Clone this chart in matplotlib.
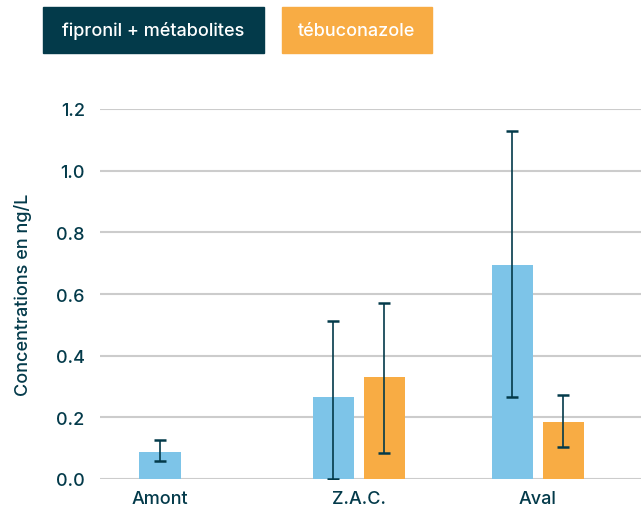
import numpy as np
import matplotlib.pyplot as plt
from matplotlib.patches import Rectangle

# data
sites = ["Amont", "Z.A.C.", "Aval"]
fipronil = [0.087, 0.266, 0.694]
fipronil_low = [0.059, 0.0, 0.267]
fipronil_high = [0.127, 0.513, 1.129]
tebu = [np.nan, 0.331, 0.185]
tebu_low = [np.nan, 0.085, 0.104]
tebu_high = [np.nan, 0.572, 0.273]
yticks = [0.0, 0.2, 0.4, 0.6, 0.8, 1.0, 1.2]

dark = "#033a4a"
blue = "#7dc4e8"
orange = "#f8ac44"
plt.rcParams['font.family'] = ['Inter', 'DejaVu Sans']

fig = plt.figure(figsize=(6.41, 5.10), dpi=100)
ax = fig.add_axes([100 / 641, 30 / 510, 541 / 641, 370 / 510])

centers = np.array([0.0, 1.053, 2.0])
width = 0.22
off = 0.135

# Amont has only one series -> bar centered on the group
blue_x = centers - off
blue_x[0] = centers[0]
orange_x = centers + off

ax.bar(blue_x, fipronil, width, color=blue, zorder=2)
ax.bar(orange_x, tebu, width, color=orange, zorder=2)

f = np.array(fipronil)
t = np.array(tebu)
ax.errorbar(blue_x, f, yerr=[f - np.array(fipronil_low), np.array(fipronil_high) - f],
            fmt="none", ecolor=dark, elinewidth=1.2, capsize=4.5, capthick=1.8, zorder=3)
ax.errorbar(orange_x, t, yerr=[t - np.array(tebu_low), np.array(tebu_high) - t],
            fmt="none", ecolor=dark, elinewidth=1.2, capsize=4.5, capthick=1.8, zorder=3)

ax.set_xlim(-0.317, 2.545)
ax.set_ylim(0, 1.2)
ax.set_yticks(yticks)
ax.set_yticklabels([f"{v:.1f}" for v in yticks])
ax.set_xticks(centers)
ax.set_xticklabels(sites)
ax.yaxis.grid(True, color="#cccccc", linewidth=1.5, zorder=0)
ax.set_axisbelow(True)
for s in ax.spines.values():
    s.set_visible(False)
ax.tick_params(axis="y", length=0, pad=11, labelsize=13, labelcolor=dark)
ax.tick_params(axis="x", length=0, pad=8, labelsize=13, labelcolor=dark)
for lab in ax.get_xticklabels() + ax.get_yticklabels():
    lab.set_fontweight("medium")
ax.set_ylabel("Concentrations en ng/L", fontsize=13, color=dark, labelpad=17,
              fontweight="medium")

# legend boxes at top
fig.patches.append(Rectangle((43 / 641, 1 - 54 / 510), 221 / 641, 46 / 510,
                             transform=fig.transFigure, color=dark))
fig.patches.append(Rectangle((282 / 641, 1 - 54 / 510), 150 / 641, 46 / 510,
                             transform=fig.transFigure, color=orange))
fig.text(153.5 / 641, 1 - 31 / 510, "fipronil + métabolites", color="white",
         fontsize=13, ha="center", va="center", fontweight="medium")
fig.text(357 / 641, 1 - 31 / 510, "tébuconazole", color="white",
         fontsize=13, ha="center", va="center", fontweight="medium")

fig.savefig("out.png", dpi=100)
